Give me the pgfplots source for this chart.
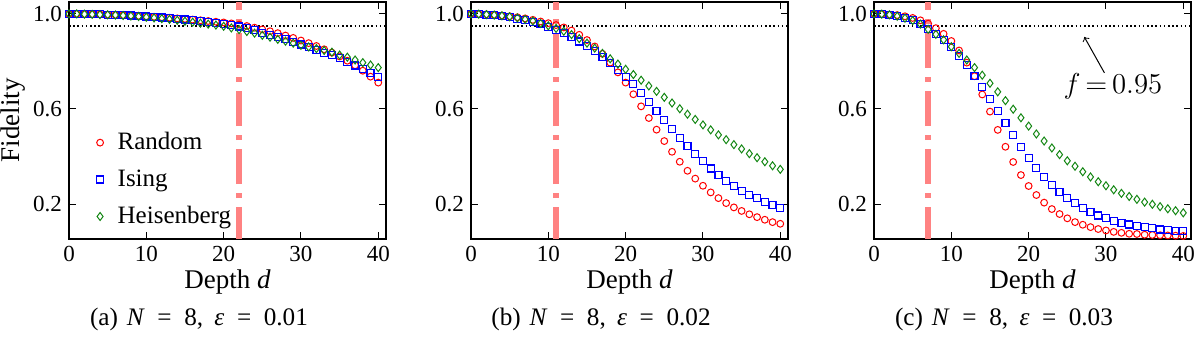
\documentclass[border=0pt]{standalone}
\usepackage{fontspec}
\setmainfont{Liberation Serif}
\usepackage{pgfplots}
\usepackage{pgfplotstable}
\pgfplotsset{compat=1.18}
\definecolor{vline}{RGB}{255,130,130}
\definecolor{hgreen}{RGB}{20,135,20}

% columns: depth, Random, Ising, Heisenberg
\pgfplotstableread{
d r i h
0 1.000 1.000 1.000
1 1.000 1.000 1.000
2 0.999 0.999 0.999
3 0.999 0.999 0.998
4 0.998 0.998 0.997
5 0.997 0.997 0.996
6 0.996 0.996 0.995
7 0.995 0.995 0.993
8 0.994 0.993 0.991
9 0.992 0.991 0.989
10 0.990 0.989 0.986
11 0.988 0.987 0.983
12 0.986 0.985 0.980
13 0.984 0.982 0.977
14 0.981 0.979 0.973
15 0.979 0.976 0.969
16 0.976 0.973 0.965
17 0.973 0.969 0.961
18 0.970 0.966 0.957
19 0.967 0.962 0.953
20 0.964 0.958 0.948
21 0.960 0.953 0.941
22 0.955 0.947 0.934
23 0.949 0.940 0.926
24 0.942 0.931 0.919
25 0.935 0.921 0.910
26 0.927 0.912 0.902
27 0.919 0.902 0.893
28 0.909 0.893 0.885
29 0.899 0.883 0.877
30 0.888 0.871 0.868
31 0.877 0.860 0.861
32 0.865 0.848 0.854
33 0.851 0.837 0.846
34 0.837 0.826 0.839
35 0.821 0.813 0.827
36 0.803 0.799 0.818
37 0.784 0.783 0.806
38 0.761 0.767 0.795
39 0.736 0.751 0.785
40 0.711 0.733 0.774
}\tabA

\pgfplotstableread{
d r i h
0 1.000 1.000 1.000
1 0.999 0.999 0.999
2 0.998 0.997 0.997
3 0.996 0.994 0.995
4 0.993 0.991 0.992
5 0.990 0.986 0.988
6 0.986 0.980 0.983
7 0.981 0.973 0.977
8 0.975 0.965 0.970
9 0.968 0.956 0.960
10 0.961 0.945 0.950
11 0.953 0.932 0.939
12 0.943 0.919 0.927
13 0.930 0.902 0.913
14 0.912 0.884 0.896
15 0.890 0.864 0.877
16 0.863 0.843 0.856
17 0.832 0.819 0.834
18 0.795 0.792 0.811
19 0.754 0.763 0.789
20 0.711 0.736 0.767
21 0.662 0.704 0.745
22 0.611 0.667 0.721
23 0.562 0.631 0.697
24 0.513 0.593 0.674
25 0.465 0.555 0.649
26 0.420 0.516 0.625
27 0.378 0.479 0.601
28 0.340 0.444 0.578
29 0.307 0.411 0.556
30 0.277 0.380 0.533
31 0.249 0.350 0.512
32 0.225 0.323 0.491
33 0.204 0.298 0.471
34 0.186 0.277 0.450
35 0.171 0.256 0.432
36 0.157 0.239 0.412
37 0.145 0.224 0.395
38 0.134 0.208 0.378
39 0.124 0.195 0.361
40 0.117 0.183 0.346
}\tabB

\pgfplotstableread{
d r i h
0 1.000 1.000 1.000
1 0.999 0.999 0.999
2 0.997 0.996 0.996
3 0.995 0.991 0.990
4 0.990 0.983 0.982
5 0.983 0.973 0.972
6 0.973 0.958 0.957
7 0.959 0.937 0.935
8 0.940 0.914 0.914
9 0.916 0.890 0.891
10 0.886 0.862 0.862
11 0.846 0.823 0.834
12 0.795 0.784 0.806
13 0.738 0.739 0.774
14 0.661 0.694 0.742
15 0.589 0.642 0.708
16 0.512 0.592 0.672
17 0.441 0.540 0.635
18 0.377 0.489 0.599
19 0.322 0.440 0.563
20 0.276 0.395 0.528
21 0.238 0.353 0.495
22 0.206 0.315 0.465
23 0.179 0.280 0.436
24 0.158 0.251 0.408
25 0.140 0.225 0.382
26 0.124 0.203 0.359
27 0.113 0.183 0.336
28 0.103 0.166 0.314
29 0.095 0.152 0.294
30 0.089 0.140 0.277
31 0.083 0.130 0.260
32 0.079 0.121 0.245
33 0.075 0.114 0.232
34 0.074 0.107 0.220
35 0.071 0.102 0.208
36 0.070 0.098 0.199
37 0.069 0.093 0.189
38 0.068 0.091 0.180
39 0.067 0.088 0.172
40 0.066 0.086 0.163
}\tabC

\pgfplotsset{
  fid/.style={
    scale only axis, width=158.5pt, height=118.5pt,
    anchor=south west,
    xmin=0, xmax=41, ymin=0.053, ymax=1.05,
    xtick={0,10,20,30,40}, ytick={0.2,0.6,1.0},
    tick align=inside, major tick length=3.5pt,
    axis line style={line width=0.6pt},
    every tick/.style={black, line width=0.5pt},
    yticklabel style={/pgf/number format/.cd, fixed, fixed zerofill, precision=1},
    /pgf/number format/assume math mode=true,
    tick label style={font=\fontsize{11.5}{13}\selectfont},
    label style={font=\fontsize{13.5}{15}\selectfont},
    xlabel={Depth \textit{d}},
    xlabel style={yshift=3pt},
  },
  pR/.style={only marks, mark=o, red, mark size=1.7pt, line width=0.5pt},
  pI/.style={only marks, mark=square, blue, mark size=1.75pt, line width=0.6pt},
  pH/.style={only marks, mark=diamond, hgreen, mark size=2.0pt, line width=0.5pt},
  vl/.style={vline, line width=3pt, dash pattern=on 17.5pt off 4.5pt on 2.5pt off 4.5pt, dash phase=1.5pt, forget plot},
  hl/.style={black, line width=0.8pt, dash pattern=on 0.8pt off 1.3pt, forget plot},
}
\newcommand{\capt}[2]{(#1)\hspace{0.35em}\textit{N}\hspace{0.5em}=\hspace{0.5em}8,\hspace{0.45em}\textit{ε}\hspace{0.5em}=\hspace{0.5em}#2}

\begin{document}
\begin{tikzpicture}
\useasboundingbox (-34.5pt,-49pt) rectangle (564pt,119.5pt);

\begin{axis}[fid, at={(0pt,0pt)}, ylabel={Fidelity},
  ylabel style={yshift=-3pt},
  legend style={at={(0.035,0.485)}, anchor=north west, draw=none, fill=none,
    font=\fontsize{12.5}{14}\selectfont, row sep=4.5pt},
  legend image code/.code={\path (0pt,0pt) (13pt,0pt);
    \draw[mark repeat=2, mark phase=2] plot coordinates {(0pt,0pt) (6.5pt,0pt) (13pt,0pt)};},
  legend cell align=left]
\addplot[hl] coordinates {(0,0.95) (41,0.95)};
\addplot[vl] coordinates {(22,0.053) (22,1.05)};
\addplot[pR] table[x=d, y=r] {\tabA};
\addplot[pI] table[x=d, y=i] {\tabA};
\addplot[pH] table[x=d, y=h] {\tabA};
\legend{Random, Ising, Heisenberg}
\end{axis}

\begin{axis}[fid, at={(201pt,0pt)}]
\addplot[hl] coordinates {(0,0.95) (41,0.95)};
\addplot[vl] coordinates {(11,0.053) (11,1.05)};
\addplot[pR] table[x=d, y=r] {\tabB};
\addplot[pI] table[x=d, y=i] {\tabB};
\addplot[pH] table[x=d, y=h] {\tabB};
\end{axis}

\begin{axis}[fid, at={(402.5pt,0pt)}]
\addplot[hl] coordinates {(0,0.95) (41,0.95)};
\addplot[vl] coordinates {(7,0.053) (7,1.05)};
\addplot[pR] table[x=d, y=r] {\tabC};
\addplot[pI] table[x=d, y=i] {\tabC};
\addplot[pH] table[x=d, y=h] {\tabC};
\draw[->, line width=0.5pt] (axis cs:29.8,0.752) -- (axis cs:27.2,0.903);
\node[font=\fontsize{13.5}{15}\selectfont] at (axis cs:30.9,0.697) {$f\,{=}\,0.95$};
\end{axis}

\node[font=\fontsize{12.6}{14}\selectfont] at (65pt,-40pt) {\capt{a}{0.01}};
\node[font=\fontsize{12.6}{14}\selectfont] at (266pt,-40pt) {\capt{b}{0.02}};
\node[font=\fontsize{12.6}{14}\selectfont] at (467.5pt,-40pt) {\capt{c}{0.03}};
\end{tikzpicture}
\end{document}
